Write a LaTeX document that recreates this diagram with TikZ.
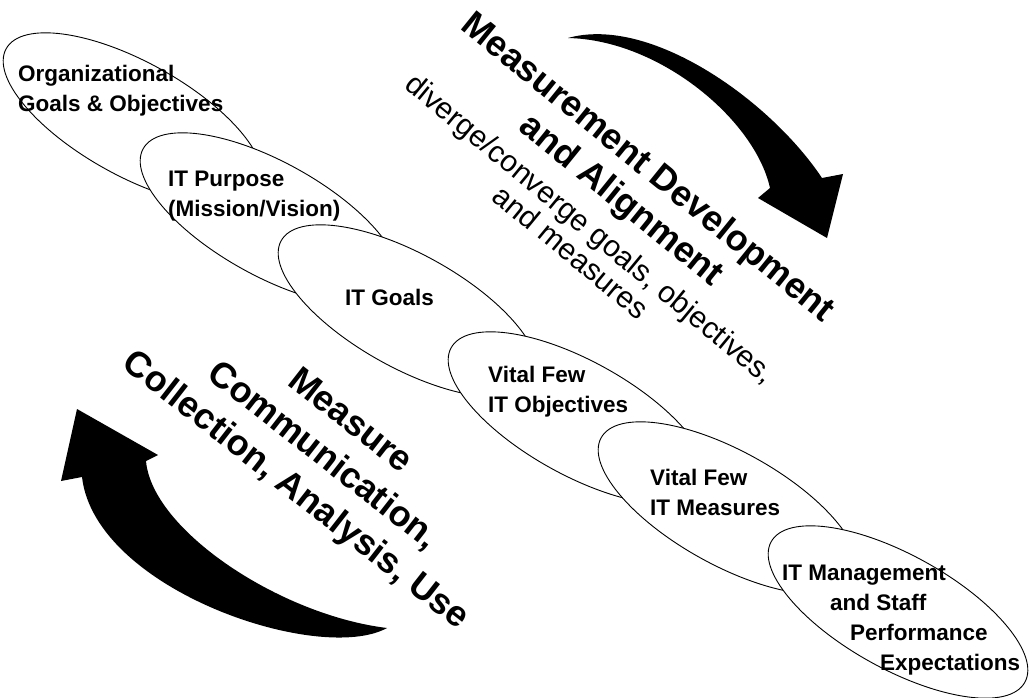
\documentclass[tikz,border=0pt]{standalone}
\usepackage{fontspec}
\setmainfont{Liberation Sans}
\usetikzlibrary{shapes.geometric}
\tikzset{
  goal/.style={ellipse, draw, fill=white, line width=0.9pt, minimum width=290pt, minimum height=114pt, inner sep=0pt, rotate=-29},
  goaltext/.style={anchor=base west, align=left, inner sep=0pt, font=\bfseries\fontsize{22.5}{30}\selectfont},
  bigtext/.style={rotate=-38, align=center, inner sep=0pt}
}

\begin{document}
\begin{tikzpicture}[x=1pt, y=-1pt]
  \useasboundingbox (0,0) rectangle (1029,698);

  % the cascade, top left to bottom right
  \node[goal] (org) at (133,119) {};
  \node[goal] (purpose) at (270,219) {};
  \node[goal] (itgoals) at (408,311) {};
  \node[goal] (vitalobj) at (578,418) {};
  \node[goal] (vitalmeas) at (728,508) {};
  \node[goal] (staff) at (898,612) {};

  % labels sit on the baseline of their last line
  \node[goaltext] (orgtext) at (18,112) {Organizational\\Goals \& Objectives};
  \node[goaltext] (purposetext) at (168,217) {IT Purpose\\(Mission/Vision)};
  \node[goaltext] (itgoalstext) at (345,305) {IT Goals};
  \node[goaltext] (vitalobjtext) at (488,412) {Vital Few\\IT Objectives};
  \node[goaltext] (vitalmeastext) at (650,515) {Vital Few\\IT Measures};
  \node[goaltext] (stafftext) at (782,670) {IT Management\\\hspace*{48pt}and Staff\\\hspace*{68pt}Performance\\\hspace*{98pt}Expectations};

  % the two big curved arrows
  \fill (568,38) .. controls (650,15) and (770,100) .. (822,178) -- (843,174) -- (827,238)
    -- (758,198) -- (770,188) .. controls (755,120) and (660,40) .. (568,38) -- cycle;
  \fill (387,628) .. controls (320,665) and (95,590) .. (82,477) -- (61,481) -- (77,409)
    -- (158,455) -- (146,461) .. controls (152,530) and (280,615) .. (387,628) -- cycle;

  \node[bigtext, rotate=-1, font=\bfseries\fontsize{36}{42}\selectfont] (devtitle) at (634,185)
    {Measurement Development\\and Alignment};
  \node[bigtext, rotate=-1.5, font=\fontsize{30}{31}\selectfont] (devnote) at (581,240)
    {diverge/converge goals, objectives,\\and measures};
  \node[bigtext, font=\bfseries\fontsize{36}{44}\selectfont] (usetitle) at (322,457)
    {Measure\\Communication,\\Collection, Analysis, Use};
\end{tikzpicture}
\end{document}
